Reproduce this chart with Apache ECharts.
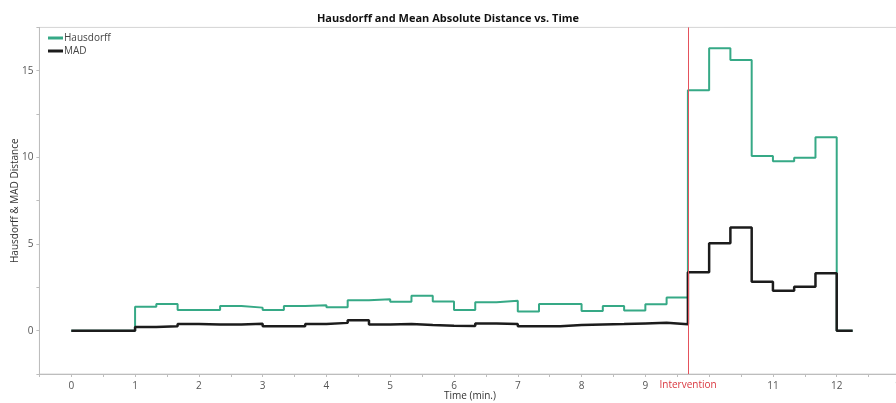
<!DOCTYPE html>
<html>
<head>
<meta charset="utf-8">
<script src="https://cdn.jsdelivr.net/npm/echarts@6/dist/echarts.min.js"></script>
<style>html,body{margin:0;padding:0;background:#fff}#c{width:896px;height:403px}</style>
</head>
<body>
<div id="c"></div>
<script>
// Time (min.) of each sample (value holds until next sample)
var times = [0, 0.333, 0.667, 1, 1.333, 1.667, 2, 2.333, 2.667, 3, 3.333, 3.667, 4, 4.333, 4.667,
  5, 5.333, 5.667, 6, 6.333, 6.667, 7, 7.333, 7.667, 8, 8.333, 8.667, 9, 9.333, 9.667,
  10, 10.333, 10.667, 11, 11.333, 11.667, 12, 12.25];
var hausdorff = [0, 0, 0, 1.38, 1.54, 1.19, 1.19, 1.43, 1.33, 1.19, 1.42, 1.47, 1.35, 1.75, 1.82,
  1.67, 2.02, 1.68, 1.19, 1.64, 1.73, 1.10, 1.54, 1.54, 1.14, 1.43, 1.16, 1.53, 1.92, 13.87,
  16.29, 15.62, 10.08, 9.77, 9.98, 11.16, 0, 0];
var mad = [0, 0, 0, 0.21, 0.26, 0.38, 0.36, 0.35, 0.40, 0.26, 0.26, 0.38, 0.45, 0.60, 0.36,
  0.38, 0.33, 0.29, 0.27, 0.42, 0.38, 0.26, 0.26, 0.33, 0.36, 0.38, 0.42, 0.46, 0.37, 3.37,
  5.04, 5.96, 2.83, 2.31, 2.54, 3.31, 0, 0];
var interventionTime = 9.667;
var seriesNames = ['Hausdorff', 'MAD'];
var titleText = 'Hausdorff and Mean Absolute Distance vs. Time';
var xName = 'Time (min.)';
var yName = 'Hausdorff & MAD Distance';

function pairs(vals) { return times.map(function (t, i) { return [t, vals[i]]; }); }

var font = '"Open Sans", "Noto Sans", sans-serif';
var chart = echarts.init(document.getElementById('c'), null, { renderer: 'canvas' });
chart.setOption({
  animation: false,
  textStyle: { fontFamily: font },
  title: {
    text: titleText, left: 'center', top: 8,
    textStyle: { fontSize: 11, fontWeight: 'bold', color: '#111', fontFamily: font }
  },
  legend: {
    orient: 'vertical', left: 48, top: 33, itemGap: 3, itemWidth: 15, itemHeight: 3,
    icon: 'rect', padding: 0,
    textStyle: { fontSize: 10, color: '#444', padding: [0, 0, 0, -4] },
    data: seriesNames
  },
  grid: {
    left: 39.4, top: 27.4, bottom: 29, right: -4.5,
    outerBoundsMode: 'none', containLabel: false,
    show: true, borderColor: '#d4d4d4', borderWidth: 1
  },
  xAxis: {
    type: 'value', min: -0.5, max: 13, interval: 0.5,
    name: xName, nameLocation: 'middle', nameGap: 17, nameMoveOverlap: false,
    nameTextStyle: { fontSize: 10, color: '#333' },
    axisLine: { onZero: false, lineStyle: { color: '#bdbdbd' } },
    axisTick: { show: true, length: 3, lineStyle: { color: '#bdbdbd' } },
    splitLine: { show: false },
    axisLabel: {
      fontSize: 10, color: '#555', margin: 7, showMaxLabel: true, showMinLabel: true,
      formatter: function (v) { return (Math.abs(v - Math.round(v)) < 1e-6 && Math.round(v) !== 10 && v >= 0) ? String(Math.round(v)) : ''; }
    }
  },
  yAxis: {
    type: 'value', min: -2.5, max: 17.5, interval: 2.5,
    name: yName, nameLocation: 'middle', nameGap: 19, nameRotate: 90, nameMoveOverlap: false,
    nameTextStyle: { fontSize: 10, color: '#333' },
    axisLine: { show: true, onZero: false, lineStyle: { color: '#bdbdbd' } },
    axisTick: { show: true, length: 3, lineStyle: { color: '#bdbdbd' } },
    splitLine: { show: false },
    axisLabel: {
      fontSize: 10, color: '#555', margin: 6,
      formatter: function (v) { return (Math.abs(v % 5) < 1e-6) ? String(v) : ''; }
    }
  },
  series: [
    {
      name: seriesNames[0], type: 'line', step: 'end', data: pairs(hausdorff),
      showSymbol: false, color: '#36a986',
      lineStyle: { width: 2, color: '#36a986' },
      markLine: {
        silent: true, symbol: ['none', 'none'],
        lineStyle: { color: '#e5525c', width: 1, type: 'solid' },
        label: { show: true, position: 'start', formatter: 'Intervention', color: '#d9363e', fontSize: 10, distance: 6 },
        data: [{ xAxis: interventionTime }]
      }
    },
    {
      name: seriesNames[1], type: 'line', step: 'end', data: pairs(mad),
      showSymbol: false, color: '#1c1c1c',
      lineStyle: { width: 2.5, color: '#1c1c1c' }
    }
  ]
});
</script>
</body>
</html>
